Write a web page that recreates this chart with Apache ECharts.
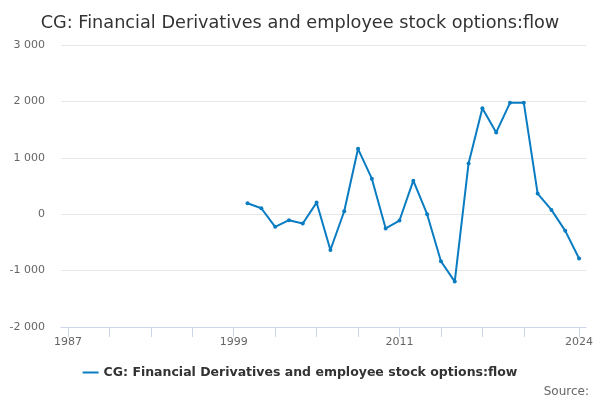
<!DOCTYPE html>
<html><head><meta charset="utf-8">
<script src="https://cdn.jsdelivr.net/npm/echarts@6/dist/echarts.min.js"></script>
<style>html,body{margin:0;padding:0;background:#fff}#c{width:600px;height:400px}</style>
</head><body><div id="c"></div>
<script>
const years = [2000,2001,2002,2003,2004,2005,2006,2007,2008,2009,2010,2011,2012,2013,2014,2015,2016,2017,2018,2019,2020,2021,2022,2023,2024];
const values = [194,106,-224,-106,-165,206,-635,53,1159,630,-253,-112,595,0,-835,-1195,900,1880,1450,1975,1975,365,76,-295,-785];
const tickYears = [1987,1990,1993,1996,1999,2002,2005,2008,2011,2014,2017,2020,2024];
const labelYears = [1987,1999,2011,2024];
const seriesName = 'CG: Financial Derivatives and employee stock options:flow';
const titleText = 'CG: Financial Derivatives and employee stock options:flow';

const chart = echarts.init(document.getElementById('c'));
const fmt = v => String(v).replace(/\B(?=(\d{3})+(?!\d))/g, ' ');
chart.setOption({
  animation: false,
  title: { text: titleText, left: 'center', top: 9, textStyle: { fontFamily: 'DejaVu Sans', fontSize: 17.7, fontWeight: 'normal', color: '#333' } },
  grid: { left: 61, right: 14, top: 45, bottom: 73 },
  xAxis: {
    type: 'value', min: 1986.5, max: 2024.5,
    axisLine: { show: true, onZero: false, lineStyle: { color: '#ccd6eb' } },
    axisTick: { show: true, length: 10, customValues: tickYears, lineStyle: { color: '#ccd6eb' } },
    axisLabel: { customValues: labelYears, color: '#666', fontFamily: 'DejaVu Sans', fontSize: 11, margin: 10, formatter: v => String(v) },
    splitLine: { show: false }
  },
  yAxis: {
    type: 'value', min: -2000, max: 3000, interval: 1000,
    axisLine: { show: false }, axisTick: { show: false },
    axisLabel: { color: '#666', fontFamily: 'DejaVu Sans', fontSize: 11, margin: 16, formatter: v => fmt(v) },
    splitLine: { lineStyle: { color: '#e6e6e6' } }
  },
  legend: {
    bottom: 16, left: 'center', itemWidth: 16, itemHeight: 8,
    textStyle: { fontFamily: 'DejaVu Sans', fontSize: 12.5, fontWeight: 'bold', color: '#333' },
    data: [{ name: seriesName, icon: 'path://M0,4L16,4L16,6L0,6Z' }]
  },
  graphic: [{ type: 'text', right: 11, bottom: 2, style: { text: 'Source:', fill: '#666', font: '12px DejaVu Sans' } }],
  series: [{
    name: seriesName, type: 'line',
    data: years.map((y, i) => [y, values[i]]),
    symbol: 'circle', symbolSize: 4,
    lineStyle: { width: 2, color: '#0a7cc1' },
    itemStyle: { color: '#0a7cc1' }
  }]
});
</script></body></html>
